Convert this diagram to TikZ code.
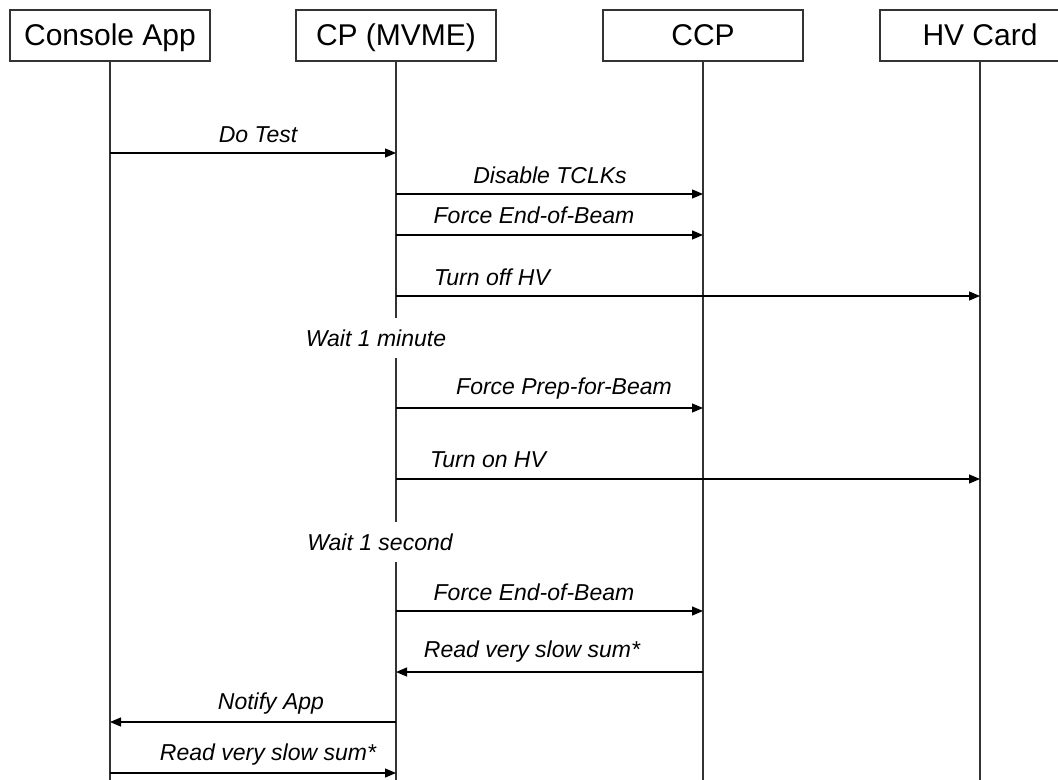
\documentclass[tikz,border=0pt]{standalone}
\usepackage{fontspec}
\setmainfont{Liberation Sans}
\usetikzlibrary{arrows.meta}

\tikzset{
  actor/.style={draw=black!80, line width=0.6pt, minimum width=100pt,
    minimum height=25.5pt, inner sep=0pt, text height=12pt, text depth=2pt,
    font=\fontsize{15}{18}\selectfont},
  life/.style={draw=black!80, line width=0.6pt},
  msg/.style={draw=black, line width=0.6pt, -{Triangle[length=5.5pt,width=4.5pt]}},
  lbl/.style={font=\fontsize{11.5}{14}\selectfont\itshape, inner sep=0pt},
  pause/.style={lbl, fill=white, inner xsep=2pt, inner ysep=6pt}
}

\begin{document}
\begin{tikzpicture}[x=0.5pt, y=-0.5pt]

  \useasboundingbox (0,0) rectangle (1058,780);

  % the four parties
  \node[actor] (app) at (110,35.5) {Console App};
  \node[actor] (cp)  at (396,35.5) {CP (MVME)};
  \node[actor] (ccp) at (703,35.5) {CCP};
  \node[actor] (hv)  at (980,35.5) {HV Card};

  % lifelines down to the page bottom
  \foreach \n in {app,cp,ccp,hv}{%
    \coordinate (\n-end) at (\n.south |- 0,780);
    \draw[life] (\n.south) -- (\n-end);
  }

  % messages: from / to / arrow y / label x / label y / text
  \foreach \src/\dst/\yy/\lx/\ly/\txt in {
      app/cp/153/258/135/Do Test,
      cp/ccp/194/550/175/Disable TCLKs,
      cp/ccp/235/534/215/Force End-of-Beam,
      cp/hv/296/492/277/Turn off HV,
      cp/ccp/408/564/389/Force Prep-for-Beam,
      cp/hv/479/488/460/Turn on HV,
      cp/ccp/611/534/592/Force End-of-Beam,
      ccp/cp/672/532/652/Read very slow sum*,
      cp/app/722/271/704/Notify App,
      app/cp/773/268/755/Read very slow sum*}{%
    \draw[msg] (\src |- 0,\yy) -- (\dst |- 0,\yy);
    \node[lbl] at (\lx,\ly) {\txt};
  }

  % waits break the CP lifeline
  \node[pause] (wait1) at (376,338) {Wait 1 minute};
  \node[pause] (wait2) at (380,542) {Wait 1 second};

\end{tikzpicture}
\end{document}
